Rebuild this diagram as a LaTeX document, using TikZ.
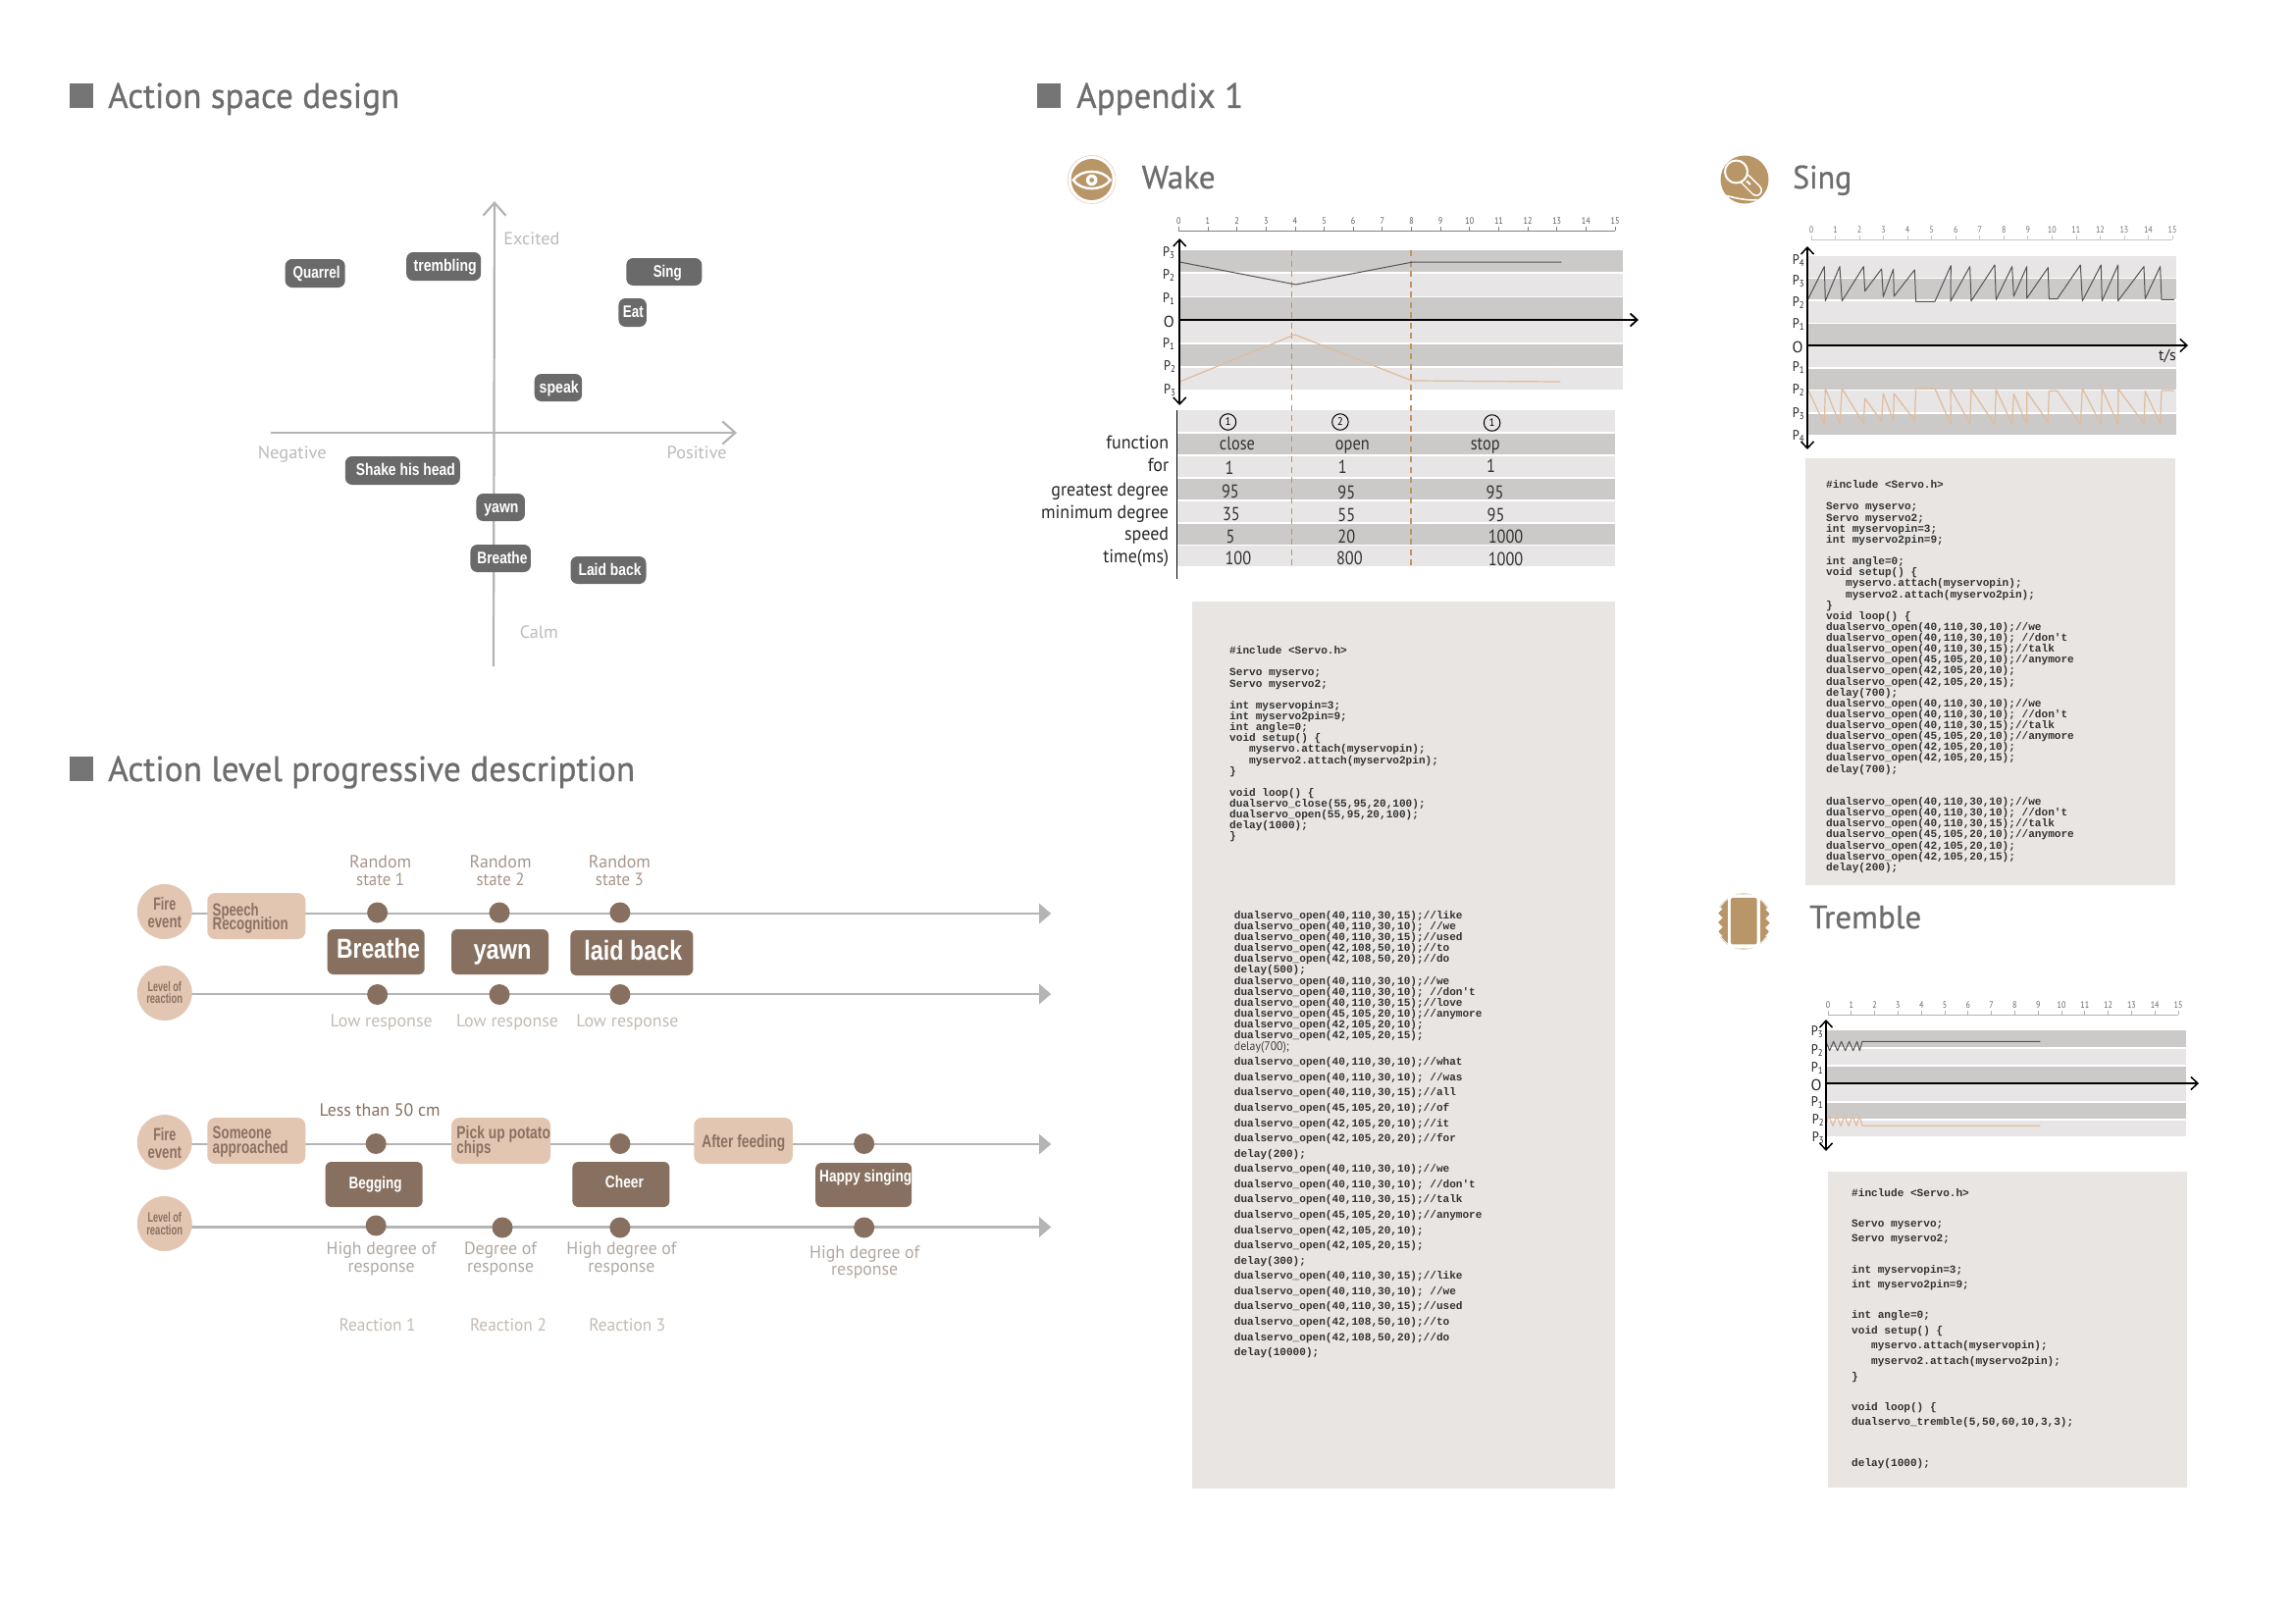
\documentclass[tikz,border=0pt]{standalone}
\usepackage{fontspec}
\usepackage{graphicx}
\usetikzlibrary{arrows.meta,backgrounds}
\setmainfont{PT Sans}
\newfontfamily\hv{Liberation Sans}
\newfontfamily\cd{Liberation Mono}
\newfontfamily\ttl[FakeBold=0.6]{PT Sans}
\newcommand\cdA{\cd\bfseries\fontsize{11.08}{11.13}\selectfont}
\newcommand\cdB{\cd\bfseries\fontsize{11.08}{15.57}\selectfont}
\newcommand\W[2]{\resizebox{#1pt}{\height}{#2}}
\newcommand\rz[1]{\raisebox{\dimexpr-.5ex-2pt\relax}{#1}}
\newcommand\tx[6][]{\node[inner sep=0pt,anchor=base,#1] (#2) at (#3,#4) {\rz{\W{#5}{#6}}};}
\newcommand\bx[6]{\node[#6,minimum width={(#4)-(#2)},minimum height={(#5)-(#3)}] (#1) at ({((#2)+(#4))/2},{((#3)+(#5))/2}) {};}
\newcommand\Pl[1]{\rz{\scalebox{.9}[1]{P\textsubscript{#1}}}}
\newcommand\ruler[6]{%
  \draw[line width=.8pt,#5] (#1,#3) -- (#2,#3);
  \foreach \i in {0,...,15}{%
    \pgfmathsetmacro\xx{#1+\i*(#2-#1)/15}
    \draw[line width=.7pt,#5] (\xx,#3) -- (\xx,#3-4);
    \node[rl,text=#6] (#4\i) at (\xx,#3-9) {\scalebox{.85}[1]{\i}};
  }}
\definecolor{titleg}{HTML}{6E6D6D}
\definecolor{squareg}{HTML}{767576}
\definecolor{axisg}{HTML}{B4B4B4}
\definecolor{labg}{HTML}{BBBBBB}
\definecolor{pillg}{HTML}{6B6A6A}
\definecolor{peach}{HTML}{E3C6B2}
\definecolor{brownb}{HTML}{87705F}
\definecolor{brownt}{HTML}{8A7161}
\definecolor{lab1}{HTML}{A8958A}
\definecolor{lab2}{HTML}{C6BAB2}
\definecolor{iconb}{HTML}{B89668}
\definecolor{ringc}{HTML}{E3CFBC}
\definecolor{banddk}{HTML}{CCCAC8}
\definecolor{bandlt}{HTML}{E7E5E5}
\definecolor{codebg}{HTML}{E8E5E3}
\definecolor{codec}{HTML}{333333}
\definecolor{crvk}{HTML}{555555}
\definecolor{crvt}{HTML}{E0BC9C}
\definecolor{dashc}{HTML}{BE9464}
\tikzset{
  hd/.style={font=\ttl\fontsize{36}{36}\selectfont,text=titleg,anchor=base west,inner sep=0pt},
  hs/.style={font=\ttl\fontsize{33}{33}\selectfont,text=titleg,anchor=base west,inner sep=0pt},
  sqr/.style={fill=squareg,inner sep=0pt,minimum size=24.5pt},
  ax/.style={draw=axisg,line width=2.2pt},
  axl/.style={font=\fontsize{18}{18}\selectfont,text=labg},
  pill/.style={fill=pillg,rounded corners=7pt,inner sep=0pt},
  pt/.style={font=\hv\bfseries\fontsize{17}{17}\selectfont,text=white},
  ptb/.style={font=\hv\bfseries\fontsize{28}{28}\selectfont,text=white},
  peachb/.style={fill=peach,rounded corners=8pt,inner sep=0pt},
  brownbox/.style={fill=brownb,rounded corners=6pt,inner sep=0pt},
  dot/.style={circle,fill=brownb,inner sep=0pt,minimum size=21pt},
  peachc/.style={circle,fill=peach,inner sep=0pt,minimum size=56pt},
  pb/.style={font=\hv\bfseries\fontsize{18}{18}\selectfont,text=brownt},
  pbs/.style={font=\hv\bfseries\fontsize{14}{14}\selectfont,text=brownt},
  tl/.style={draw=axisg,line width=2.4pt,-{Triangle[length=12pt,width=20pt]}},
  l1/.style={font=\fontsize{18}{18}\selectfont,text=lab1},
  l2/.style={font=\fontsize{18}{18}\selectfont,text=lab2},
  l3/.style={font=\fontsize{18}{18}\selectfont,text=lab2!90!black},
  rl/.style={inner sep=0pt,anchor=mid,font=\fontsize{9.5}{9.5}\selectfont},
  plab/.style={inner sep=0pt,anchor=base,font=\fontsize{14}{14}\selectfont,text=black!85},
  olab/.style={inner sep=0pt,anchor=base,font=\fontsize{16}{16}\selectfont,text=black!85},
  tcell/.style={inner sep=0pt,anchor=base,font=\fontsize{19}{19}\selectfont,text=black!80},
  tlab/.style={inner sep=0pt,anchor=base east,font=\fontsize{19}{19}\selectfont,text=black!85},
  cnum/.style={circle,draw=black,line width=1pt,minimum size=16.5pt,inner sep=0pt,font=\fontsize{11}{11}\selectfont},
  codeA/.style={anchor=north west,inner sep=0pt,align=left,font=\cdA,text=codec},
  codeB/.style={anchor=north west,inner sep=0pt,align=left,font=\cdB,text=codec},
  codebox/.style={fill=codebg,inner sep=0pt},
  axk/.style={draw=black,line width=1.5pt},
  oarrow/.style={{Straight Barb[length=7pt,width=13pt]}-{Straight Barb[length=7pt,width=13pt]}},
  rarrow/.style={-{Straight Barb[length=7pt,width=13pt]}},
  ring/.style={draw=ringc,line width=.6pt,fill=none},
  crvK/.style={draw=crvk,line width=1pt,line join=round},
  crvT/.style={draw=crvt,line width=1.2pt,line join=round},
  wh/.style={draw=white,line width=2.4pt},
}
\begin{document}
\begin{tikzpicture}[x=1pt,y=-1pt]
\useasboundingbox (0,0) rectangle (2339,1654);
\begin{scope}[on background layer]
\fill[white] (0,0) rectangle (2339,1654);
\end{scope}

%% ---------- section headers
\node[sqr] (s1) at (83,97.5) {};
\node[hd] (h1) at (110,110) {\W{297}{Action space design}};
\node[sqr] (s2) at (83,783.5) {};
\node[hd] (h2) at (110,796) {\W{537}{Action level progressive description}};
\node[sqr] (s3) at (1069,97.5) {};
\node[hd] (h3) at (1097,110) {\W{170}{Appendix 1}};

%% ---------- action space
\begin{scope}[x=.9962pt,xshift=.9pt]
\coordinate (vt) at (505,205);
\coordinate (vb) at (504,679);
\coordinate (hl) at (276,441);
\coordinate (hr) at (753,441);
\draw[ax,-{Straight Barb[length=13pt,width=23pt]}] (vb) -- (vt);
\draw[ax,-{Straight Barb[length=13pt,width=23pt]}] (hl) -- (hr);
\tx[axl]{exc}{543}{243}{57}{Excited}
\tx[axl]{neg}{298}{461}{70}{Negative}
\tx[axl]{pos}{712}{461}{61}{Positive}
\tx[axl]{cal}{550.5}{644}{39}{Calm}
\foreach \n/\a/\b/\c/\d/\tcx/\tcy/\w/\t in {
  quarrel/291/264/352/293/323/277/48/Quarrel,
  tremb/415/257/491/286/454.5/270/64/trembling,
  sing/640/263/717/291/682/276/29/Sing,
  eat/632/304/660.5/333/647/317/21/Eat,
  speak/546/381/594.5/409/571/394/40/speak,
  shake/352.5/465/469.5/494/414/478/101/Shake his head,
  yawnA/486.5/503/536/531/512/516/35/yawn,
  breatheA/480.5/555/542/583/513/568/51/Breathe,
  laid/583/567/660/595/623/580/64/Laid back}
{
  \bx{\n}{\a}{\b}{\c}{\d}{pill}
  \tx[pt]{\n-t}{\tcx}{\tcy}{\w}{\t}
}
\end{scope}

\begin{scope}[x=.995pt,xshift=.6pt]
%% ---------- progressive row 1
\coordinate (e1) at (1076,931);
\coordinate (e2) at (1076,1013);
\node[peachc] (fire1) at (168,929) {};
\node[peachc] (lev1) at (168,1012) {};
\begin{scope}[on background layer]
\draw[tl] (fire1.center |- e1) -- (e1);
\draw[tl] (lev1.center |- e2) -- (e2);
\end{scope}
\tx[pb]{f1a}{168}{921}{23}{Fire}
\tx[pb]{f1b}{168}{939}{34.5}{event}
\tx[pbs]{l1a}{168}{1005}{34.5}{Level of}
\tx[pbs]{l1b}{168}{1017}{37}{reaction}
\bx{speech}{212}{910}{312}{957}{peachb}
\tx[pb,anchor=base west]{speecha}{217}{927}{47}{Speech}
\tx[pb,anchor=base west]{speechb}{217}{941}{77}{Recognition}
\foreach \x/\i in {386/1,511/2,634.5/3}{
  \node[dot] (a\i) at (\x,930) {};
  \node[dot] (b\i) at (\x,1013.5) {};
}
\tx[l1]{r1a}{389}{878}{63}{Random}
\tx[l1]{r1b}{389}{896}{49}{state 1}
\tx[l1]{r2a}{512}{878}{63}{Random}
\tx[l1]{r2b}{512}{896}{49}{state 2}
\tx[l1]{r3a}{634}{878}{63}{Random}
\tx[l1]{r3b}{634}{896}{49}{state 3}
\bx{bb1}{335}{947}{434}{993}{brownbox}
\bx{bb2}{462}{947}{561}{993}{brownbox}
\bx{bb3}{584}{948}{709}{994}{brownbox}
\tx[ptb]{bt1}{387}{967}{85}{Breathe}
\tx[ptb]{bt2}{514}{968}{59}{yawn}
\tx[ptb]{bt3}{648}{969}{100}{laid back}
\tx[l2]{lr1}{390}{1040}{104}{Low response}
\tx[l2]{lr2}{519}{1040}{104}{Low response}
\tx[l2]{lr3}{642}{1040}{104}{Low response}

%% ---------- progressive row 2
\coordinate (e3) at (1076,1166);
\coordinate (e4) at (1076,1250.5);
\node[peachc] (fire2) at (168,1164) {};
\node[peachc] (lev2) at (168,1247) {};
\begin{scope}[on background layer]
\draw[tl] (fire2.center |- e3) -- (e3);
\draw[tl] (lev2.center |- e4) -- (e4);
\end{scope}
\tx[pb]{f2a}{168}{1156}{23}{Fire}
\tx[pb]{f2b}{168}{1174}{34.5}{event}
\tx[pbs]{l2a}{168}{1240}{34.5}{Level of}
\tx[pbs]{l2b}{168}{1253}{37}{reaction}
\tx[font=\fontsize{18}{18}\selectfont,text=brownb]{less}{388.5}{1131}{123}{Less than 50 cm}
\bx{some}{212}{1139}{312}{1186}{peachb}
\tx[pb,anchor=base west]{somea}{217}{1154}{60}{Someone}
\tx[pb,anchor=base west]{someb}{217}{1169}{77}{approached}
\bx{pick}{462}{1139}{563}{1186}{peachb}
\tx[pb,anchor=base west]{picka}{467}{1154}{95.5}{Pick up potato}
\tx[pb,anchor=base west]{pickb}{467}{1169}{35}{chips}
\bx{after}{710.5}{1139}{811}{1186}{peachb}
\tx[pb]{aftert}{761}{1163}{85}{After feeding}
\foreach \x/\i in {384.5/1,634.5/2,884.5/3}{
  \node[dot] (c\i) at (\x,1165.5) {};
}
\foreach \x/\y/\i in {384.5/1249/1,514/1251/2,634.5/1251/3,884.5/1251/4}{
  \node[dot] (d\i) at (\x,\y) {};
}
\bx{bg}{333}{1184}{432}{1230}{brownbox}
\bx{ch}{586}{1184}{685}{1230}{brownbox}
\bx{hp}{835}{1185}{933}{1230}{brownbox}
\tx[pt]{bgt}{384}{1205}{54}{Begging}
\tx[pt]{cht}{639}{1204}{39}{Cheer}
\tx[pt]{hpt}{886}{1198}{94}{Happy singing}
\tx[l3]{h1a}{390}{1272}{112}{High degree of}
\tx[l3]{h1b}{390}{1290}{68}{response}
\tx[l3]{h2a}{512}{1272}{74}{Degree of}
\tx[l3]{h2b}{512}{1290}{68}{response}
\tx[l3]{h3a}{636}{1272}{112}{High degree of}
\tx[l3]{h3b}{636}{1290}{68}{response}
\tx[l3]{h4a}{885}{1276}{112}{High degree of}
\tx[l3]{h4b}{885}{1293}{68}{response}
\tx[l2]{re1}{386}{1350}{78}{Reaction 1}
\tx[l2]{re2}{520}{1350}{78}{Reaction 2}
\tx[l2]{re3}{642}{1350}{78}{Reaction 3}
\end{scope}

%% ---------- WAKE
\begin{scope}[x=.995pt,xshift=5.25pt]
\node[circle,ring,minimum size=49pt,inner sep=0pt] (wakering) at (1113,183) {};
\node[circle,fill=iconb,minimum size=42pt,inner sep=0pt] (wakeicon) at (1113,183) {};
\draw[wh] (1094,183.5) .. controls (1102,172) and (1124,172) .. (1132,183.5) .. controls (1124,195) and (1102,195) .. cycle;
\fill[white] (1113,183.5) circle (5.8pt);
\fill[iconb] (1113,183.5) circle (2.4pt);
\node[hs] (waket) at (1164,192) {\W{75}{Wake}};
\ruler{1202}{1649}{235}{wr}{black!50}{black!65}
\foreach \a/\b/\c in {255/277.3/banddk,279/302/bandlt,303/325/banddk,327/349/bandlt,351/373/banddk,375/397/bandlt}
  \fill[\c] (1203,\a) rectangle (1657.5,\b);
\foreach \a/\b/\c in {418/440/bandlt,442/463/banddk,465/486/bandlt,488/509/banddk,511/532/bandlt,534/555/banddk,556/577/bandlt}
  \fill[\c] (1201,\a) rectangle (1649,\b);
\coordinate (wd1t) at (1318,255);
\coordinate (wd1b) at (1318,577);
\coordinate (wd2t) at (1440,255);
\coordinate (wd2b) at (1440,577);
\draw[dashc,line width=1.3pt,dash pattern=on 6pt off 4.5pt] (wd1t) -- (wd1b);
\draw[dashc,line width=1.3pt,dash pattern=on 6pt off 4.5pt] (wd2t) -- (wd2b);
\draw[crvK] (1203,267) -- (1322,290) -- (1442,267) -- (1594,267);
\draw[crvT] (1203,389) -- (1321,341) -- (1441,388) -- (1593,389);
\coordinate (wvt) at (1203,243);
\coordinate (wvb) at (1203,413);
\coordinate (whl) at (1203,326);
\coordinate (whr) at (1673,326);
\coordinate (wtt) at (1200,418);
\coordinate (wtb) at (1200,590);
\draw[axk,oarrow] (wvb) -- (wvt);
\draw[axk,line width=1.8pt,rarrow] (whl) -- (whr);
\draw[axk,line width=1pt] (wtt) -- (wtb);
\foreach \x/\y/\n [count=\i] in {1192/256/3,1192/279/2,1192/303/1,1192/349/1,1193/372/2,1193/396/3}
  \node[plab] (wp\i) at (\x,\y) {\Pl{\n}};
\node[olab] (wpo) at (1192,327) {\rz{O}};
\node[cnum] (wc1) at (1252.5,430) {1};
\node[cnum] (wc2) at (1367.5,430) {2};
\node[cnum] (wc3) at (1523,431) {1};
\foreach \t/\y [count=\i] in {function/451,for/474,greatest degree/499,minimum degree/522,speed/544,time(ms)/567}
  \node[tlab] (wl\i) at (1192,\y) {\rz{\scalebox{.945}[1]{\t}}};
\foreach \x/\y/\t [count=\i] in {1262/452/close,1380/452/open,1516/452/stop,
  1254/477/1,1370/476/1,1522/475/1,
  1255/501/95,1374/502/95,1526/502/95,
  1256/524/35,1374/525/55,1527/525/95,
  1255/547/5,1374/547/20,1537/547/1000,
  1263/569/100,1377/569/800,1537/570/1000}
  \node[tcell] (wv\i) at (\x,\y) {\rz{\scalebox{.86}[1]{\t}}};
\end{scope}

\bx{wcode}{1215}{613}{1646}{1517}{codebox}
\node[codeA] (wc-a) at (1253,658.5) {\#include <Servo.h>\\~\\Servo myservo;\\Servo myservo2;\\~\\int myservopin=3;\\int myservo2pin=9;\\int angle=0;\\void setup() \{\\~~~myservo.attach(myservopin);\\~~~myservo2.attach(myservo2pin);\\\}\\~\\void loop() \{\\dualservo\_close(55,95,20,100);\\dualservo\_open(55,95,20,100);\\delay(1000);\\\}};
\node[codeA] (wc-b) at (1257.7,928) {dualservo\_open(40,110,30,15);//like\\dualservo\_open(40,110,30,10); //we\\dualservo\_open(40,110,30,15);//used\\dualservo\_open(42,108,50,10);//to\\dualservo\_open(42,108,50,20);//do\\delay(500);\\dualservo\_open(40,110,30,10);//we\\dualservo\_open(40,110,30,10); //don't\\dualservo\_open(40,110,30,15);//love\\dualservo\_open(45,105,20,10);//anymore\\dualservo\_open(42,105,20,10);\\dualservo\_open(42,105,20,15);};
\tx[anchor=base west,font=\fontsize{12.5}{12.5}\selectfont,text=black!75]{wc-d}{1257.7}{1065}{56}{delay(700);}
\node[codeB] (wc-c) at (1257.7,1077.5) {dualservo\_open(40,110,30,10);//what\\dualservo\_open(40,110,30,10); //was\\dualservo\_open(40,110,30,15);//all\\dualservo\_open(45,105,20,10);//of\\dualservo\_open(42,105,20,10);//it\\dualservo\_open(42,105,20,20);//for\\delay(200);\\dualservo\_open(40,110,30,10);//we\\dualservo\_open(40,110,30,10); //don't\\dualservo\_open(40,110,30,15);//talk\\dualservo\_open(45,105,20,10);//anymore\\dualservo\_open(42,105,20,10);\\dualservo\_open(42,105,20,15);\\delay(300);\\dualservo\_open(40,110,30,15);//like\\dualservo\_open(40,110,30,10); //we\\dualservo\_open(40,110,30,15);//used\\dualservo\_open(42,108,50,10);//to\\dualservo\_open(42,108,50,20);//do\\delay(10000);};

%% ---------- SING
\node[circle,fill=iconb,minimum size=49pt,inner sep=0pt] (singicon) at (1778,183) {};
\begin{scope}
\clip (1778,183) circle (24.5pt);
\draw[white,line width=12pt,line cap=round] (1779,183) -- (1790,194);
\draw[iconb,line width=9pt,line cap=round] (1779,183) -- (1790,194);
\draw[white,line width=2pt] (1780,184.5) -- (1784,188);
\filldraw[draw=white,fill=iconb,line width=2pt] (1769.5,175) circle (11.5pt);
\draw[white,line width=1.6pt] (1752,198) .. controls (1765,200) and (1778,206) .. (1797,203);
\end{scope}
\node[hs] (singt) at (1827,192) {\W{60}{Sing}};
\ruler{1846}{2214}{244}{sr}{black!22}{black!55}
\foreach \a/\b/\c in {261/283/bandlt,284/305/banddk,307/329/bandlt,330/352/banddk,353/374/bandlt,376/397/banddk,398/420/bandlt,422/443/banddk}
  \fill[\c] (1842,\a) rectangle (2218,\b);
\begin{scope}[x=0.33333pt,y=-0.33333pt,shift={(5220,420)}]
\draw[crvK] (307,497)--(358,395)--(361,500)--(405,395)--(412,500)--(478,395)--(482,470)--(533,402)--(538,487)--(569,403)--(571,486)--(634,405)--(638,502)--(696,502)--(745,392)--(744,501)--(803,395)--(807,500)--(879,390)--(883,496)--(932,395)--(937,486)--(977,395)--(977,492)--(1042,398)--(1045,494)--(1070,494)--(1141,390)--(1147,500)--(1204,390)--(1207,500)--(1256,390)--(1256,500)--(1335,395)--(1339,493)--(1385,395)--(1389,496)--(1428,496);
\draw[crvT] (307,770)--(358,876)--(361,768)--(405,876)--(412,768)--(478,875)--(482,798)--(533,868)--(538,783)--(569,865)--(571,783)--(634,865)--(638,768)--(696,768)--(745,878)--(744,768)--(803,876)--(807,770)--(879,878)--(883,772)--(932,876)--(937,785)--(977,876)--(977,778)--(1042,870)--(1045,775)--(1070,775)--(1141,878)--(1147,768)--(1204,878)--(1207,768)--(1256,878)--(1256,768)--(1335,875)--(1339,776)--(1385,875)--(1389,774)--(1428,774);
\end{scope}
\coordinate (svt) at (1842,251);
\coordinate (svb) at (1842,458);
\coordinate (shl) at (1842,352);
\coordinate (shr) at (2230,352);
\draw[axk,oarrow] (svb) -- (svt);
\draw[axk,rarrow] (shl) -- (shr);
\foreach \y/\n [count=\i] in {264/4,285/3,307/2,329/1,373/1,396/2,420/3,443/4}
  \node[plab] (sp\i) at (1833,\y) {\Pl{\n}};
\node[olab] (spo) at (1832,353) {\rz{O}};
\node[olab] (sts) at (2209,361) {\rz{t/s}};
\bx{scode}{1840}{467}{2217}{902}{codebox}
\node[codeA] (sc-a) at (1861,489.5) {\#include <Servo.h>\\~\\Servo myservo;\\Servo myservo2;\\int myservopin=3;\\int myservo2pin=9;\\~\\int angle=0;\\void setup() \{\\~~~myservo.attach(myservopin);\\~~~myservo2.attach(myservo2pin);\\\}\\void loop() \{\\dualservo\_open(40,110,30,10);//we\\dualservo\_open(40,110,30,10); //don't\\dualservo\_open(40,110,30,15);//talk\\dualservo\_open(45,105,20,10);//anymore\\dualservo\_open(42,105,20,10);\\dualservo\_open(42,105,20,15);\\delay(700);\\dualservo\_open(40,110,30,10);//we\\dualservo\_open(40,110,30,10); //don't\\dualservo\_open(40,110,30,15);//talk\\dualservo\_open(45,105,20,10);//anymore\\dualservo\_open(42,105,20,10);\\dualservo\_open(42,105,20,15);\\delay(700);\\~\\~\\dualservo\_open(40,110,30,10);//we\\dualservo\_open(40,110,30,10); //don't\\dualservo\_open(40,110,30,15);//talk\\dualservo\_open(45,105,20,10);//anymore\\dualservo\_open(42,105,20,10);\\dualservo\_open(42,105,20,15);\\delay(200);};

%% ---------- TREMBLE
\node[circle,ring,minimum size=57pt,inner sep=0pt] (trring) at (1777,939) {};
\node[circle,fill=iconb,minimum size=55pt,inner sep=0pt] (tricon) at (1777,939) {};
\begin{scope}[x=0.33333pt,y=-0.33333pt,shift={(5220,2700)}]
\fill[white] (63,36) rectangle (162,198);
\fill[iconb,rounded corners=2pt] (72,45) rectangle (152,187);
\fill[white] (22,70)--(47,78)--(33,92)--(47,106)--(33,120)--(47,134)--(33,148)--(47,162)--(22,170)--cycle;
\fill[white] (200,70)--(178,80)--(192,94)--(178,108)--(192,122)--(178,136)--(192,150)--(178,160)--(200,170)--cycle;
\end{scope}
\node[hs] (trt) at (1844,946) {\W{114}{Tremble}};
\ruler{1863}{2220}{1034}{tr}{black!30}{black!60}
\foreach \a/\b/\c in {1050/1067/banddk,1069/1085/bandlt,1087/1103/banddk,1105/1122/bandlt,1124/1140/banddk,1142/1158/bandlt}
  \fill[\c] (1861,\a) rectangle (2228,\b);
\begin{scope}[x=0.33333pt,y=-0.33333pt,shift={(5220,2700)}]
\draw[crvK] (362,482)--(374,512)--(386,484)--(398,512)--(410,484)--(422,512)--(434,484)--(446,512)--(458,484)--(466,512)--(474,484)--(1018,484);
\draw[crvT] (362,740)--(372,712)--(384,742)--(396,712)--(408,742)--(420,712)--(432,742)--(444,712)--(456,742)--(466,712)--(474,742)--(1018,742);
\end{scope}
\coordinate (tvt) at (1861,1039);
\coordinate (tvb) at (1861,1173);
\coordinate (thl) at (1861,1104);
\coordinate (thr) at (2241,1104);
\draw[axk,oarrow] (tvb) -- (tvt);
\draw[axk,rarrow] (thl) -- (thr);
\foreach \x/\y/\n [count=\i] in {1852/1050/3,1852/1069/2,1852/1087/1,1852/1122/1,1853/1140/2,1853/1158/3}
  \node[plab] (tp\i) at (\x,\y) {\Pl{\n}};
\node[olab] (tpo) at (1851,1105) {\rz{O}};
\bx{tcode}{1863}{1194}{2229}{1516}{codebox}
\node[codeB] (tc-a) at (1887,1211) {\#include <Servo.h>\\~\\Servo myservo;\\Servo myservo2;\\~\\int myservopin=3;\\int myservo2pin=9;\\~\\int angle=0;\\void setup() \{\\~~~myservo.attach(myservopin);\\~~~myservo2.attach(myservo2pin);\\\}\\~\\void loop() \{\\dualservo\_tremble(5,50,60,10,3,3);};
\node[codeB] (tc-b) at (1887,1486) {delay(1000);};
\end{tikzpicture}
\end{document}
